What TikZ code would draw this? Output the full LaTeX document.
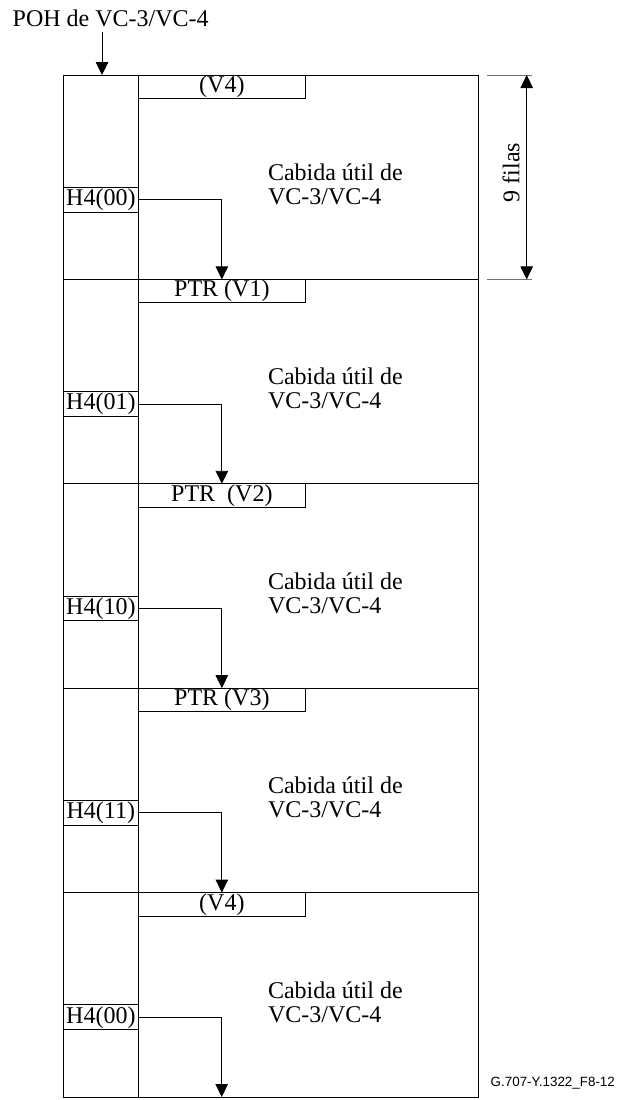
\documentclass[tikz,border=0pt]{standalone}
\usepackage{fontspec}
\setmainfont{Liberation Serif}
\newfontfamily\footfont{Liberation Sans}
\usetikzlibrary{arrows.meta}
\begin{document}
\begin{tikzpicture}[x=1pt,y=-1pt,
  line width=0.9pt,
  every node/.style={inner sep=0pt, outer sep=0pt, font=\fontsize{24}{24}\selectfont},
  hbox/.style={draw, minimum width=75.7pt, minimum height=24.7pt, anchor=north west},
  vbox/.style={draw, minimum width=166.3pt, minimum height=23.5pt, anchor=north west},
  tip/.style={-{Triangle[length=13pt,width=12.5pt]}},
  dimarrow/.style={{Triangle[length=13pt,width=12.5pt]}-{Triangle[length=13pt,width=12.5pt]}},
  extline/.style={draw=black!55, line width=1pt},
  payload/.style={align=left, anchor=base west},
]
\useasboundingbox (0,0) rectangle (617,1100);

% frame
\draw (63,75) rectangle (478,1097);
\draw (138.7,75) -- (138.7,1097);
\foreach \y in {279.4,483.8,688.2,892.6} \draw (63,\y) -- (478,\y);

% header boxes
\node[vbox] (v0) at (138.7,75) {(V4)};
\node[vbox] (v1) at (138.7,279.4) {PTR (V1)};
\node[vbox] (v2) at (138.7,483.8) {PTR~~(V2)};
\node[vbox] (v3) at (138.7,688.2) {PTR (V3)};
\node[vbox] (v4) at (138.7,892.6) {(V4)};

% H4 boxes
\node[hbox] (h0) at (63,187.3) {H4(00)};
\node[hbox] (h1) at (63,391.7) {H4(01)};
\node[hbox] (h2) at (63,596.1) {H4(10)};
\node[hbox] (h3) at (63,800.5) {H4(11)};
\node[hbox] (h4) at (63,1004.9) {H4(00)};

% payload texts (base = baseline of last line)
\node[payload] (p0) at (268,204.5) {Cabida útil de\\VC-3/VC-4};
\node[payload] (p1) at (268,408.9) {Cabida útil de\\VC-3/VC-4};
\node[payload] (p2) at (268,613.3) {Cabida útil de\\VC-3/VC-4};
\node[payload] (p3) at (268,817.7) {Cabida útil de\\VC-3/VC-4};
\node[payload] (p4) at (268,1022.1) {Cabida útil de\\VC-3/VC-4};

% H4 arrows
\coordinate (bot) at (221.7,1097);
\draw[tip] (h0.east) -| (v1.north);
\draw[tip] (h1.east) -| (v2.north);
\draw[tip] (h2.east) -| (v3.north);
\draw[tip] (h3.east) -| (v4.north);
\draw[tip] (h4.east) -| (bot);

% POH label
\node[anchor=base west] (poh) at (12.7,26.7) {POH de VC-3/VC-4};
\coordinate (pohtip) at (102,75);
\draw[tip] ([yshift=-5pt]poh.south -| pohtip) -- (pohtip);

% dimension
\coordinate (d1) at (526.7,75);
\coordinate (d2) at (526.7,279.4);
\draw[extline] (487,75) -- (532,75);
\draw[extline] (487,279.4) -- (532,279.4);
\draw[dimarrow] (d1) -- (d2);
\node[rotate=90] (nf) at (511,172.5) {9 filas};

% footer
\node[anchor=base west, font=\footfont\fontsize{13.4}{15}\selectfont] (ref) at (490.7,1086) {G.707-Y.1322\_F8-12};
\end{tikzpicture}
\end{document}
